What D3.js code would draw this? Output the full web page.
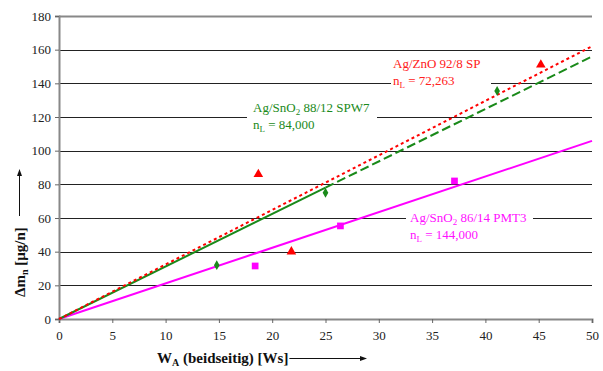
<!DOCTYPE html>
<html><head><meta charset="utf-8">
<script src="https://cdn.jsdelivr.net/npm/d3@7"></script>
<style>body{margin:0;background:#fff}svg{display:block} text{font-family:"Liberation Serif","Times New Roman",Times,serif !important;}</style>
</head><body><div id="chart"></div>
<script>
// Data
const xTicks = [0,5,10,15,20,25,30,35,40,45,50];
const yTicks = [0,20,40,60,80,100,120,140,160,180];
const znoX = [18.7, 21.8, 45.2];
const znoY = [86, 40, 151];
const spwX = [14.8, 25.0, 41.1];
const spwY = [32, 75, 135.5];
const pmtX = [18.4, 26.4, 37.1];
const pmtY = [31.5, 55.3, 82];
// fitted lines (x, y endpoints)
const znoLineX = [0, 50], znoLineY = [0, 162];
const spwSolidX = [0, 25], spwSolidY = [0, 78];
const spwDashX = [25, 50], spwDashY = [78, 156];
const pmtLineX = [0, 50], pmtLineY = [0, 105.8];

const W = 603, H = 371;
const FONT = "'Liberation Serif','Times New Roman',Times,serif";
const svg = d3.select("#chart").append("svg").attr("width", W).attr("height", H)
  .attr("font-family", FONT);
const x = d3.scaleLinear().domain([0,50]).range([59,592]);
const y = d3.scaleLinear().domain([0,180]).range([319,16]);

// gridlines
svg.append("g").selectAll("line").data(yTicks.filter(d=>d>0)).join("line")
  .attr("x1", x(0)).attr("x2", x(50))
  .attr("y1", d=>Math.round(y(d))+0.5).attr("y2", d=>Math.round(y(d))+0.5)
  .attr("stroke", d=> d===180 ? "#888" : "#222").attr("stroke-width", d=> d===180 ? 2 : 1);

// axes
const xAxis = svg.append("g").attr("transform", `translate(0,${y(0)})`)
  .call(d3.axisBottom(x).tickValues(xTicks).tickSize(4).tickPadding(8));
const yAxis = svg.append("g").attr("transform", `translate(${x(0)},0)`)
  .call(d3.axisLeft(y).tickValues(yTicks).tickSize(4).tickPadding(4));
[xAxis, yAxis].forEach(a => {
  a.attr("font-family", FONT);
  a.select(".domain").attr("stroke", "#888").attr("stroke-width", 2);
  a.selectAll(".tick line").attr("stroke", "#666");
  a.selectAll("text").attr("font-size", 13).attr("fill", "#222").attr("font-family", FONT);
});

// labels with white boxes
function label(x0, y0, color, l1, sub1, rest1, l2pre, l2sub, l2rest, boxX1, boxX2) {
  const g = svg.append("g");
  g.append("rect").attr("x", boxX1).attr("y", y0-12).attr("width", boxX2-boxX1).attr("height", 33).attr("fill", "#fff");
  const t1 = g.append("text").attr("x", x0).attr("y", y0).attr("fill", color).attr("font-size", 13).attr("font-family", FONT);
  t1.append("tspan").text(l1);
  if (sub1) { t1.append("tspan").attr("font-size", 9).attr("dy", 3).text(sub1); t1.append("tspan").attr("dy", -3).text(rest1); }
  const t2 = g.append("text").attr("x", x0).attr("y", y0+17).attr("fill", color).attr("font-size", 13).attr("font-family", FONT);
  t2.append("tspan").text(l2pre);
  t2.append("tspan").attr("font-size", 9).attr("dy", 3).text(l2sub);
  t2.append("tspan").attr("dy", -3).text(l2rest);
}
label(393, 68, "#ff2020", "Ag/ZnO 92/8 SP", null, null, "n", "L", " = 72,263", 391, 491);
label(253, 112, "#1a8a1a", "Ag/SnO", "2", " 88/12 SPW7", "n", "L", " = 84,000", 247, 377);
label(410, 222, "#ff10ff", "Ag/SnO", "2", " 86/14 PMT3", "n", "L", " = 144,000", 406, 533);

// lines
const line = (xs, ys) => d3.line()(xs.map((v,i)=>[x(v), y(ys[i])]));
svg.append("path").attr("d", line(pmtLineX, pmtLineY)).attr("stroke", "#ff00ff").attr("stroke-width", 2).attr("fill", "none");
svg.append("path").attr("d", line(spwSolidX, spwSolidY)).attr("stroke", "#1a8a1a").attr("stroke-width", 2).attr("fill", "none");
svg.append("path").attr("d", line(spwDashX, spwDashY)).attr("stroke", "#1a8a1a").attr("stroke-width", 2).attr("stroke-dasharray", "9,4").attr("fill", "none");
svg.append("path").attr("d", line(znoLineX, znoLineY)).attr("stroke", "#ff0000").attr("stroke-width", 2).attr("stroke-dasharray", "3,3").attr("fill", "none");

// markers
const sym = (type, size, xs, ys, color) => svg.append("g").selectAll("path").data(xs).join("path")
  .attr("transform", (d,i)=>`translate(${x(d)},${y(ys[i])})`)
  .attr("d", d3.symbol().type(type).size(size)).attr("fill", color);
sym(d3.symbolTriangle, 40, znoX, znoY, "#ff0000");
sym(d3.symbolDiamond, 28, spwX, spwY, "#1a8a1a");
sym(d3.symbolSquare, 45, pmtX, pmtY, "#ff00ff");

// axis titles
const xt = svg.append("text").attr("x", 157).attr("y", 363).attr("font-size", 15).attr("font-weight", "bold").attr("fill", "#111").attr("font-family", FONT);
xt.append("tspan").text("W");
xt.append("tspan").attr("font-size", 10).attr("dy", 3).text("A");
xt.append("tspan").attr("dy", -3).text(" (beidseitig) [Ws]");
const xEnd = 157 + xt.node().getComputedTextLength() + 1;
svg.append("line").attr("x1", xEnd).attr("x2", 362).attr("y1", 358.5).attr("y2", 358.5).attr("stroke", "#111");
svg.append("path").attr("d", "M367,358.5 L360,356 L360,361 Z").attr("fill", "#111");

const yt = svg.append("text").attr("transform", "translate(25,297) rotate(-90)").attr("font-size", 15).attr("font-weight", "bold").attr("fill", "#111").attr("font-family", FONT);
yt.append("tspan").text("Δm");
yt.append("tspan").attr("font-size", 10).attr("dy", 3).text("n");
yt.append("tspan").attr("dy", -3).text(" [µg/n]");
svg.append("line").attr("x1", 19.5).attr("x2", 19.5).attr("y1", 216).attr("y2", 175).attr("stroke", "#111");
svg.append("path").attr("d", "M19.5,169 L17,176 L22,176 Z").attr("fill", "#111");
</script></body></html>
